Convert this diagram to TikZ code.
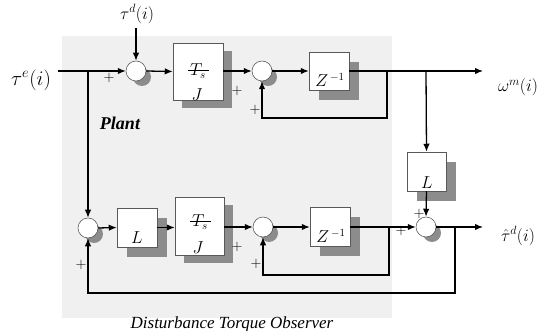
\documentclass[tikz,border=0pt]{standalone}
\usepackage{fontspec}
\setmainfont{Liberation Serif}
\usetikzlibrary{arrows.meta}
\begin{document}
\begin{tikzpicture}[x=1pt,y=-1pt,
  wire/.style={line width=1.3pt,draw=black},
  arr/.style={wire,-{Latex[length=8pt,width=6.5pt]}},
  blk/.style={draw=black!65,line width=0.5pt,fill=white,inner sep=0pt},
  shd/.style={fill=black!45,draw=none},
  sumc/.style={circle,draw=black!70,line width=0.5pt,fill=white,minimum size=20pt,inner sep=0pt},
  plus/.style={font=\fontsize{14}{14}\selectfont,inner sep=0pt},
  lbl/.style={font=\fontsize{18}{20}\selectfont,inner sep=0pt},
  bt/.style={font=\fontsize{16}{18}\selectfont,inner sep=0pt}]
\useasboundingbox (0,0) rectangle (546,331);
\fill[black!6] (62,36) rectangle (392,318);
% shadows
\fill[shd] (182,51) rectangle (232,108);
\fill[shd] (319,62) rectangle (359,100);
\fill[shd] (417,162) rectangle (456,201);
\fill[shd] (127,218) rectangle (167,257);
\fill[shd] (184,205) rectangle (233,263);
\fill[shd] (320,217) rectangle (360,256);
\foreach \p in {(142,77),(268,77),(94,234),(269,233),(432,233)} \fill[black!45] \p circle (9pt);
% blocks
\node[blk,minimum width=50pt,minimum height=57pt] (P1) at (198,71.5) {};
\node[blk,minimum width=40pt,minimum height=38pt] (Z1) at (329,71) {};
\node[blk,minimum width=39pt,minimum height=39pt] (L2) at (426.5,171.5) {};
\node[blk,minimum width=40pt,minimum height=39pt] (L1) at (137,227.5) {};
\node[blk,minimum width=49pt,minimum height=58pt] (P2) at (199.5,226) {};
\node[blk,minimum width=40pt,minimum height=39pt] (Z2) at (330,226.5) {};
% block texts
\node[bt] (ts1) at (198,71) {$T_s$};
\draw[line width=0.6pt] (188,70) -- (209,70);
\node[bt] (j1) at (197,95) {$J$};
\node[bt] (ts2) at (200,222) {$T_s$};
\draw[line width=0.6pt] (190,221) -- (211,221);
\node[bt] (j2) at (198,248) {$J$};
\node[bt] (z1t) at (330,80) {$Z^{\,-1}$};
\node[bt] (z2t) at (331,236) {$Z^{\,-1}$};
\node[bt] (l1t) at (137,238) {$L$};
\node[bt] (l2t) at (427,183) {$L$};
% sums
\node[sumc] (s1) at (136,71) {};
\node[sumc] (s2) at (262,71) {};
\node[sumc] (s4) at (88,228) {};
\node[sumc] (s5) at (263,227) {};
\node[sumc] (s3) at (426,227) {};
% labels
\node[lbl,font=\fontsize{20}{22}\selectfont] (te) at (31,80) {$\tau^{e}(i)$};
\node[lbl] (td) at (137,14) {$\tau^{d}(i)$};
\node[lbl] (wm) at (518,87) {$\omega^{m}(i)$};
\node[lbl] (tdh) at (518,236) {$\hat{\tau}^{d}(i)$};
\node[font=\fontsize{18}{20}\selectfont\bfseries\itshape,inner sep=0pt] (plant) at (120,123) {Plant};
\node[font=\fontsize{17}{19}\selectfont\itshape,inner sep=0pt,anchor=base] (obs) at (232,328) {Disturbance Torque Observer};
% coordinates
\coordinate (in) at (58,71);
\coordinate (br1) at (88,71);
\coordinate (tdtop) at (136,28);
\coordinate (out1) at (483,71);
\coordinate (fb1) at (387,71);
\coordinate (br2) at (426,71);
\coordinate (out2) at (483,227);
\coordinate (fb3) at (455,227);
\coordinate (fb2) at (389,227);
% wiring top
\draw[arr] (in) -- (s1.west);
\draw[arr] (tdtop) -- (s1.north);
\draw[arr] (s1.east) -- (P1.west);
\draw[arr] (P1.east |- s2) -- (s2.west);
\draw[arr] (s2.east) -- (Z1.west);
\draw[arr] (Z1.east) -- (out1);
\draw[arr] (fb1) -- ++(0,47) -| (s2.south);
\draw[arr] (br2) -- (L2.north);
\draw[arr] (L2.south) -- (s3.north);
% wiring bottom
\draw[arr] (br1) -- (s4.north);
\draw[arr] (s4.east) -- (L1.west);
\draw[arr] (L1.east) -- (P2.west |- L1.east);
\draw[arr] (P2.east |- s5) -- (s5.west);
\draw[arr] (s5.east) -- (Z2.west |- s5);
\draw[arr] (Z2.east |- s3) -- (s3.west);
\draw[arr] (fb2) -- ++(0,48) -| (s5.south);
\draw[arr] (s3.east) -- (out2);
\draw[arr] (fb3) -- ++(0,66) -| (s4.south);
% plus signs
\node[plus] at (109,78) {$+$};
\node[plus] at (237,91) {$+$};
\node[plus] at (255,110) {$+$};
\node[plus] at (237,247) {$+$};
\node[plus] at (256,264) {$+$};
\node[plus] at (81,265) {$+$};
\node[plus] at (419,214) {$+$};
\node[plus] at (401,231) {$+$};
\end{tikzpicture}
\end{document}
